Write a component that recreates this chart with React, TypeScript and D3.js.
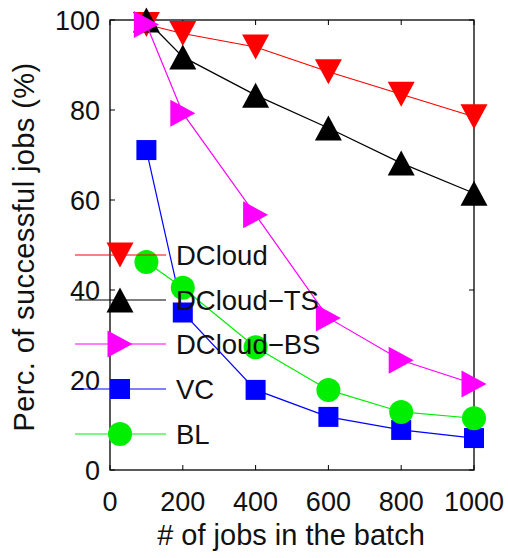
import React from "react";
import * as d3 from "d3";

// Batch sizes (number of jobs) and success percentages per scheduler
const batchSizes = [100, 200, 400, 600, 800, 1000];
const dcloud = [99, 97, 94, 88.5, 83.5, 78.5];
const dcloudTS = [100, 91.8, 83.3, 76, 68.2, 61.5];
const dcloudBS = [99, 79.3, 56.7, 33.8, 24.4, 19.1];
const vc = [71.1, 35, 17.8, 11.8, 8.9, 7.1];
const bl = [46.2, 40.5, 27.3, 17.8, 12.9, 11.5];

const xTicks = [0, 200, 400, 600, 800, 1000];
const yTicks = [0, 20, 40, 60, 80, 100];

const seriesNames = ["DCloud", "DCloud\u2212TS", "DCloud\u2212BS", "VC", "BL"];
const seriesValues = [dcloud, dcloudTS, dcloudBS, vc, bl];
const seriesColors = ["#ff0000", "#000000", "#ff00ff", "#0000ff", "#00ee00"];
const seriesMarkers = ["down", "up", "right", "square", "circle"];

const W = 508;
const H = 558;
const left = 110;
const right = 474;
const top = 20;
const bottom = 470;
const font = "'Liberation Sans', Arial, Helvetica, sans-serif";

function Marker({ kind, x, y, color }: { kind: string; x: number; y: number; color: string }) {
  const w = 27;
  const h = 25;
  if (kind === "down") {
    return <path d={`M${x - w / 2},${y - h / 2}L${x + w / 2},${y - h / 2}L${x},${y + h / 2}Z`} fill={color} />;
  }
  if (kind === "up") {
    return <path d={`M${x - w / 2},${y + h / 2}L${x + w / 2},${y + h / 2}L${x},${y - h / 2}Z`} fill={color} />;
  }
  if (kind === "right") {
    return <path d={`M${x - h / 2},${y - w / 2}L${x - h / 2},${y + w / 2}L${x + h / 2},${y}Z`} fill={color} />;
  }
  if (kind === "square") {
    return <rect x={x - 10} y={y - 10} width={20} height={20} fill={color} />;
  }
  return <circle cx={x} cy={y} r={12} fill={color} />;
}

export default function App() {
  const x = d3.scaleLinear().domain([0, 1000]).range([left, right]);
  const y = d3.scaleLinear().domain([0, 100]).range([bottom, top]);
  const line = d3
    .line<number>()
    .x((_, i) => x(batchSizes[i]))
    .y((v) => y(v));

  const legendY = [255, 300, 344, 389, 434];

  return (
    <svg width={W} height={H} style={{ position: "absolute", left: 0, top: 0, background: "#fff" }} fontFamily={font}>
      {/* frame */}
      <rect x={left} y={top} width={right - left} height={bottom - top} fill="none" stroke="#000" strokeWidth={1.3} />
      {/* ticks */}
      {xTicks.map((t) => (
        <g key={"xt" + t}>
          <line x1={x(t)} x2={x(t)} y1={bottom} y2={bottom - 5} stroke="#000" />
          <line x1={x(t)} x2={x(t)} y1={top} y2={top + 5} stroke="#000" />
          <text x={x(t)} y={511} fontSize={27} textAnchor="middle" fill="#111">
            {t}
          </text>
        </g>
      ))}
      {yTicks.map((t) => (
        <g key={"yt" + t}>
          <line x1={left} x2={left + 5} y1={y(t)} y2={y(t)} stroke="#000" />
          <line x1={right} x2={right - 5} y1={y(t)} y2={y(t)} stroke="#000" />
          <text x={100} y={y(t) + 10} fontSize={27} textAnchor="end" fill="#111">
            {t}
          </text>
        </g>
      ))}
      {/* axis titles */}
      <text x={291} y={545} fontSize={29} textAnchor="middle" fill="#111">
        # of jobs in the batch
      </text>
      <text transform={`translate(34,247) rotate(-90)`} fontSize={29} letterSpacing={0.4} textAnchor="middle" fill="#111">
        Perc. of successful jobs (%)
      </text>
      {/* series */}
      {seriesValues.map((vals, i) => (
        <g key={"s" + i}>
          <path d={line(vals) || ""} fill="none" stroke={seriesColors[i]} strokeWidth={1.2} />
          {vals.map((v, j) => (
            <Marker key={j} kind={seriesMarkers[i]} x={x(batchSizes[j])} y={y(v)} color={seriesColors[i]} />
          ))}
        </g>
      ))}
      {/* legend */}
      {seriesNames.map((name, i) => (
        <g key={"lg" + name}>
          <line x1={75} x2={166} y1={legendY[i]} y2={legendY[i]} stroke={seriesColors[i]} strokeWidth={1.2} />
          <Marker kind={seriesMarkers[i]} x={120} y={legendY[i]} color={seriesColors[i]} />
          <text x={176} y={legendY[i] + 10} fontSize={27.5} fill="#111">
            {name}
          </text>
        </g>
      ))}
    </svg>
  );
}
